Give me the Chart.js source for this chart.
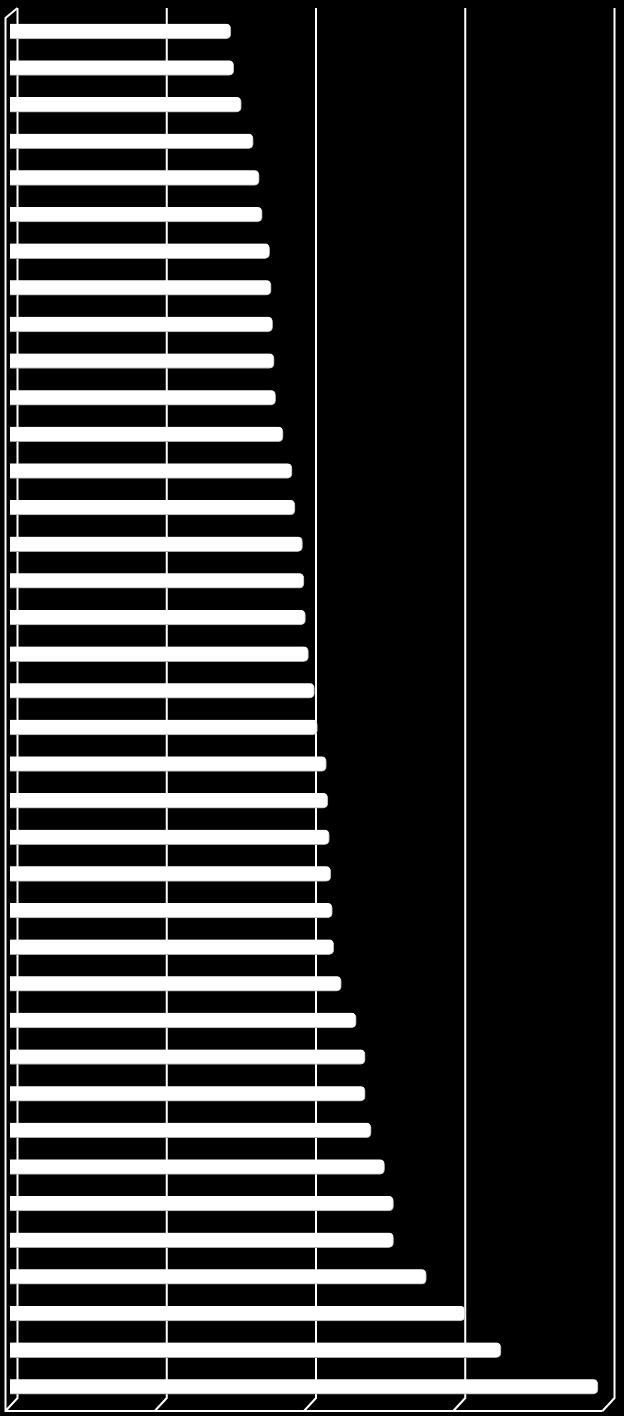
<!DOCTYPE html>
<html>
<head>
<meta charset="utf-8">
<script src="https://cdn.jsdelivr.net/npm/chart.js@4"></script>
<style>
html,body{margin:0;padding:0;background:#000;}
canvas{display:block;}
</style>
</head>
<body>
<canvas id="c" width="624" height="1416"></canvas>
<script>
const categories = ['1','2','3','4','5','6','7','8','9','10','11','12','13','14','15','16','17','18','19',
  '20','21','22','23','24','25','26','27','28','29','30','31','32','33','34','35','36','37','38'];
const values = [14.8,15.0,15.5,16.3,16.7,16.9,17.4,17.5,17.6,17.7,17.8,18.3,18.9,19.1,19.6,19.7,19.8,20.0,20.4,
  20.6,21.2,21.3,21.4,21.5,21.6,21.7,22.2,23.2,23.8,23.8,24.2,25.1,25.7,25.7,27.9,30.5,32.9,39.4];
const tickValues = [0,10,20,30,40];

const wallPlugin = {
  id: 'wall',
  beforeDatasetsDraw(chart) {
    const ctx = chart.ctx;
    const xs = chart.scales.x;
    const depthX = 7.5, topY = 8, backBottom = 1398, frontBottom = 1411, dx = 12;
    ctx.save();
    ctx.strokeStyle = '#ffffff';
    ctx.lineWidth = 2;
    ctx.lineCap = 'butt';
    tickValues.forEach(v => {
      const px = xs.getPixelForValue(v) + depthX;
      ctx.beginPath();
      ctx.moveTo(px, topY);
      ctx.lineTo(px, backBottom);
      ctx.lineTo(px - dx, frontBottom);
      ctx.stroke();
    });
    const left = xs.getPixelForValue(0) + depthX;
    const right = xs.getPixelForValue(40) + depthX;
    ctx.beginPath();
    ctx.moveTo(left, topY);
    ctx.lineTo(left - dx, topY + 10);
    ctx.lineTo(left - dx, frontBottom);
    ctx.lineTo(right - dx, frontBottom);
    ctx.stroke();
    ctx.restore();
  }
};

new Chart(document.getElementById('c'), {
  type: 'bar',
  data: {
    labels: categories,
    datasets: [{
      data: values,
      backgroundColor: '#ffffff',
      borderColor: '#a8a8a8',
      borderWidth: {top: 0, right: 1, bottom: 1, left: 0},
      borderRadius: 5,
      barThickness: 15
    }]
  },
  options: {
    indexAxis: 'y',
    responsive: false,
    animation: false,
    devicePixelRatio: 1,
    layout: {padding: {left: 10, right: 17, top: 13, bottom: 11}},
    plugins: {legend: {display: false}, tooltip: {enabled: false}},
    scales: {
      x: {display: false, min: 0, max: 40},
      y: {display: false}
    }
  },
  plugins: [wallPlugin]
});
</script>
</body>
</html>
